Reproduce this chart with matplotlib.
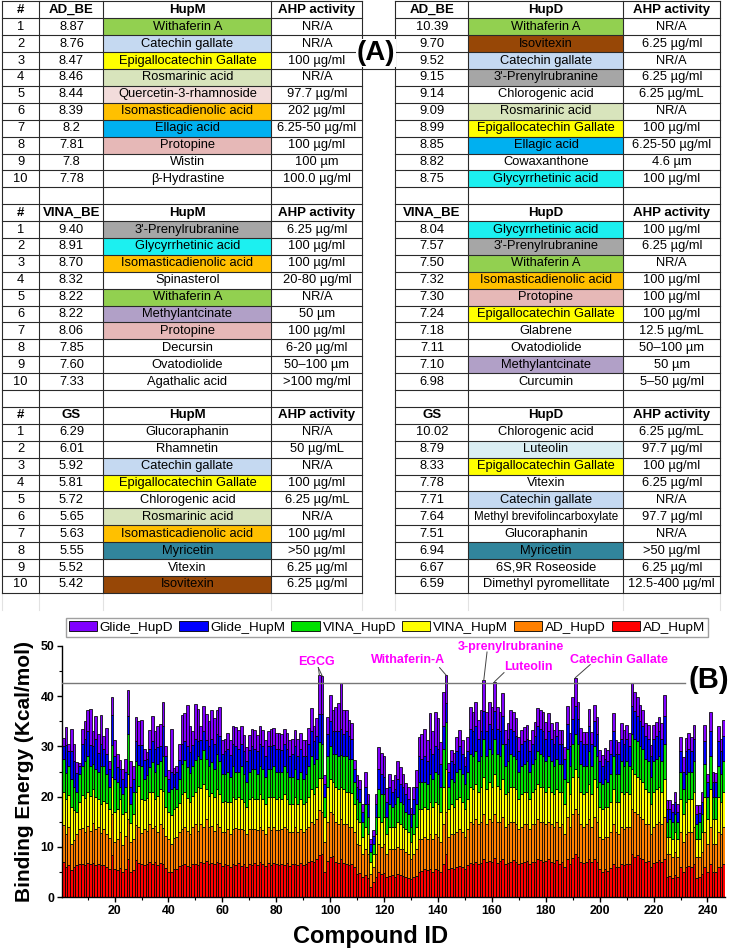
import numpy as np
import matplotlib
matplotlib.use('Agg')
import matplotlib.pyplot as plt
from matplotlib.patches import Rectangle, Patch

plt.rcParams['font.family'] = ['Liberation Sans', 'DejaVu Sans']

# ---------------- (A) tables ----------------
ad_hupm_be = ['8.87', '8.76', '8.47', '8.46', '8.44', '8.39', '8.2', '7.81', '7.8', '7.78']
ad_hupm_name = ['Withaferin A', 'Catechin gallate', 'Epigallocatechin Gallate', 'Rosmarinic acid',
                'Quercetin-3-rhamnoside', 'Isomasticadienolic acid', 'Ellagic acid', 'Protopine',
                'Wistin', 'β-Hydrastine']
ad_hupm_ahp = ['NR/A', 'NR/A', '100 µg/ml', 'NR/A', '97.7 µg/ml', '202 µg/ml', '6.25-50 µg/ml',
               '100 µg/ml', '100 µm', '100.0 µg/ml']

ad_hupd_be = ['10.39', '9.70', '9.52', '9.15', '9.14', '9.09', '8.99', '8.85', '8.82', '8.75']
ad_hupd_name = ['Withaferin A', 'Isovitexin', 'Catechin gallate', "3'-Prenylrubranine", 'Chlorogenic acid',
                'Rosmarinic acid', 'Epigallocatechin Gallate', 'Ellagic acid', 'Cowaxanthone',
                'Glycyrrhetinic acid']
ad_hupd_ahp = ['NR/A', '6.25 µg/ml', 'NR/A', '6.25 µg/ml', '6.25 µg/mL', 'NR/A', '100 µg/ml',
               '6.25-50 µg/ml', '4.6 µm', '100 µg/ml']

vina_hupm_be = ['9.40', '8.91', '8.70', '8.32', '8.22', '8.22', '8.06', '7.85', '7.60', '7.33']
vina_hupm_name = ["3'-Prenylrubranine", 'Glycyrrhetinic acid', 'Isomasticadienolic acid', 'Spinasterol',
                  'Withaferin A', 'Methylantcinate', 'Protopine', 'Decursin', 'Ovatodiolide',
                  'Agathalic acid']
vina_hupm_ahp = ['6.25 µg/ml', '100 µg/ml', '100 µg/ml', '20-80 µg/ml', 'NR/A', '50 µm', '100 µg/ml',
                 '6-20 µg/ml', '50–100 µm', '>100 mg/ml']

vina_hupd_be = ['8.04', '7.57', '7.50', '7.32', '7.30', '7.24', '7.18', '7.11', '7.10', '6.98']
vina_hupd_name = ['Glycyrrhetinic acid', "3'-Prenylrubranine", 'Withaferin A', 'Isomasticadienolic acid',
                  'Protopine', 'Epigallocatechin Gallate', 'Glabrene', 'Ovatodiolide', 'Methylantcinate',
                  'Curcumin']
vina_hupd_ahp = ['100 µg/ml', '6.25 µg/ml', 'NR/A', '100 µg/ml', '100 µg/ml', '100 µg/ml', '12.5 µg/mL',
                 '50–100 µm', '50 µm', '5–50 µg/ml']

gs_hupm_be = ['6.29', '6.01', '5.92', '5.81', '5.72', '5.65', '5.63', '5.55', '5.52', '5.42']
gs_hupm_name = ['Glucoraphanin', 'Rhamnetin', 'Catechin gallate', 'Epigallocatechin Gallate',
                'Chlorogenic acid', 'Rosmarinic acid', 'Isomasticadienolic acid', 'Myricetin', 'Vitexin',
                'Isovitexin']
gs_hupm_ahp = ['NR/A', '50 µg/mL', 'NR/A', '100 µg/ml', '6.25 µg/mL', 'NR/A', '100 µg/ml', '>50 µg/ml',
               '6.25 µg/ml', '6.25 µg/ml']

gs_hupd_be = ['10.02', '8.79', '8.33', '7.78', '7.71', '7.64', '7.51', '6.94', '6.67', '6.59']
gs_hupd_name = ['Chlorogenic acid', 'Luteolin', 'Epigallocatechin Gallate', 'Vitexin', 'Catechin gallate',
                'Methyl brevifolincarboxylate', 'Glucoraphanin', 'Myricetin', '6S,9R Roseoside',
                'Dimethyl pyromellitate']
gs_hupd_ahp = ['6.25 µg/mL', '97.7 µg/ml', '100 µg/ml', '6.25 µg/ml', 'NR/A', '97.7 µg/ml', 'NR/A',
               '>50 µg/ml', '6.25 µg/ml', '12.5-400 µg/ml']

score_names = ['AD_BE', 'VINA_BE', 'GS']

# cell shading used for compounds that recur in the tables
shade = {
    'Withaferin A': '#92D050', 'Catechin gallate': '#C5D9F1', 'Epigallocatechin Gallate': '#FFFF00',
    'Rosmarinic acid': '#D8E4BC', 'Quercetin-3-rhamnoside': '#F2DCDB', 'Isomasticadienolic acid': '#FFC000',
    'Ellagic acid': '#00B0F0', 'Protopine': '#E6B8B7', 'Isovitexin': '#974706',
    "3'-Prenylrubranine": '#A6A6A6', 'Glycyrrhetinic acid': '#1CF0F0', 'Methylantcinate': '#B1A0C7',
    'Myricetin': '#31859C', 'Luteolin': '#DAEEF3',
}

# ---------------- (B) stacked binding energies, compounds 1-246 ----------------
ad_hupm = [
    7.0, 6.0, 6.3, 5.3, 6.0, 6.3, 6.5, 6.6, 6.4, 6.8,
    6.5, 6.8, 6.3, 6.6, 6.3, 6.4, 6.0, 5.6, 8.3, 5.6,
    5.3, 5.8, 5.0, 5.6, 7.6, 5.0, 5.3, 7.3, 6.8, 6.5,
    6.3, 6.5, 7.0, 6.5, 7.0, 6.3, 6.8, 6.5, 5.8, 5.0,
    5.0, 5.5, 5.6, 6.2, 6.3, 6.5, 6.2, 6.0, 6.5, 6.6,
    6.4, 7.0, 6.8, 7.2, 6.6, 6.8, 6.5, 7.0,
    6.8, 6.2, 6.5, 6.3, 6.0, 6.6, 6.4, 6.7, 6.2, 6.5,
    6.0, 6.6, 6.4, 6.8, 6.3, 6.9, 6.5, 6.2, 6.7, 6.4,
    6.8, 6.5, 6.3, 6.6, 6.4, 6.7, 6.2, 6.5, 6.6, 6.3,
    6.8, 6.4, 6.6, 6.9, 7.2, 7.0, 7.5, 8.3, 8.5, 5.0,
    7.2, 8.0, 8.2, 7.0, 6.8, 7.5, 6.7, 6.5, 6.4, 6.5,
    6.0, 4.5, 4.8, 4.0, 4.3, 3.8, 2.0, 3.0, 4.0, 5.0,
    4.5, 4.8, 4.0, 4.2, 4.4, 4.0, 4.5, 4.3, 4.1, 4.0,
    3.8, 3.5, 4.0, 4.2, 5.0, 5.2, 5.5, 5.3, 5.5, 5.0,
    5.6, 5.4, 5.0, 6.5, 8.6, 5.5, 5.8, 5.5, 6.0, 6.2,
    6.0, 5.5, 6.3, 6.8, 6.5, 7.0, 6.6, 6.8, 7.5, 7.0,
    7.2, 7.0, 7.8, 6.8, 7.2, 7.5, 6.5, 6.8, 7.0, 7.3,
    7.0, 6.5, 6.8, 7.0, 7.2, 6.5, 6.9, 7.0, 7.5, 7.3,
    7.0, 7.2, 7.5, 7.0, 6.8, 7.3, 6.5, 7.0, 6.0, 7.5,
    6.5, 7.8, 8.6, 8.0, 7.0, 6.8, 7.0, 7.5, 7.0, 7.5,
    7.0, 5.5, 5.0, 5.5, 5.2, 5.8, 6.5, 6.0, 6.0, 6.5,
    6.3, 6.6, 6.5, 8.5, 8.0, 8.3, 7.8, 7.5, 7.0, 7.2,
    6.0, 6.8, 7.0, 7.3, 7.0, 7.5, 4.0, 4.2, 3.8, 4.3,
    4.0, 6.0, 5.0, 6.0, 6.2, 6.0, 6.5, 3.8, 4.0, 4.5,
    6.0, 5.0, 6.5, 5.0, 5.0, 6.0, 6.0, 6.5,
]
ad_hupd = [
    7.3, 6.6, 7.7, 5.3, 5.3, 6.2, 7.0, 7.2, 6.6, 7.4,
    6.7, 8.0, 7.3, 7.4, 6.5, 7.1, 6.5, 6.2, 8.2, 5.4,
    6.2, 7.2, 5.4, 6.6, 7.9, 6.0, 6.2, 7.0, 7.2, 6.2,
    7.2, 6.7, 7.5, 7.3, 7.2, 6.7, 7.7, 7.3, 6.4, 6.5,
    5.5, 6.3, 6.4, 6.8, 7.2, 7.5, 7.0, 6.5, 7.5, 7.9,
    6.8, 7.5, 7.2, 8.3, 7.4, 7.4, 6.7, 7.5,
    7.2, 6.8, 6.5, 7.2, 6.5, 7.0, 7.4, 6.8, 7.3, 6.8,
    6.5, 7.0, 7.2, 6.7, 7.0, 7.1, 6.8, 6.3, 7.3, 6.9,
    7.2, 6.8, 7.0, 6.9, 7.6, 6.8, 6.8, 6.5, 7.4, 6.7,
    6.7, 6.6, 6.9, 7.1, 7.8, 7.5, 8.0, 9.0, 8.5, 6.0,
    7.8, 9.0, 8.3, 8.0, 7.7, 8.0, 7.8, 8.0, 7.6, 7.5,
    7.0, 6.0, 5.5, 4.5, 5.2, 4.7, 2.5, 3.0, 4.5, 5.5,
    5.5, 5.7, 4.5, 5.3, 5.1, 5.5, 5.5, 5.2, 5.4, 5.0,
    4.7, 4.0, 4.5, 5.3, 6.5, 6.3, 6.5, 6.2, 7.0, 6.5,
    6.9, 6.6, 6.0, 8.0, 8.4, 6.5, 6.7, 7.0, 7.0, 7.3,
    7.0, 6.5, 7.2, 8.2, 8.0, 8.5, 7.9, 8.2, 9.0, 7.5,
    8.3, 8.0, 8.7, 8.2, 7.8, 8.5, 7.5, 7.7, 8.0, 7.7,
    7.5, 7.0, 7.2, 7.5, 7.3, 7.0, 7.6, 7.5, 8.0, 7.7,
    8.0, 7.3, 7.5, 7.5, 7.2, 7.7, 7.5, 7.5, 6.5, 8.5,
    7.5, 8.7, 8.9, 8.5, 7.5, 7.2, 7.5, 8.0, 7.0, 8.5,
    8.0, 6.5, 6.5, 6.5, 6.8, 7.2, 8.0, 7.0, 6.5, 7.5,
    7.2, 7.4, 7.5, 9.0, 9.0, 8.2, 8.2, 8.0, 7.5, 7.3,
    6.5, 7.2, 7.5, 7.7, 7.5, 8.5, 4.5, 4.3, 4.2, 4.7,
    4.0, 7.0, 6.0, 6.5, 6.8, 7.0, 7.5, 4.2, 4.0, 4.5,
    7.0, 5.5, 7.5, 5.5, 5.5, 7.0, 6.5, 7.5,
]
vina_hupm = [
    6.7, 6.9, 6.3, 7.4, 6.0, 4.5, 5.5, 6.6, 6.8, 6.8,
    7.0, 6.7, 6.4, 5.5, 5.7, 5.7, 6.3, 5.7, 7.5, 6.0,
    6.1, 6.5, 6.1, 4.8, 9.0, 3.8, 5.0, 6.7, 8.2, 6.8,
    5.8, 6.6, 6.5, 7.2, 5.3, 7.2, 7.0, 7.4, 5.8, 5.5,
    5.8, 5.7, 6.0, 5.8, 7.0, 7.0, 6.6, 6.5, 6.2, 6.5,
    8.8, 7.3, 8.5, 6.0, 6.2, 6.6, 6.8, 7.0,
    6.5, 6.0, 6.2, 5.5, 6.5, 6.4, 5.7, 6.5, 6.0, 5.7,
    5.5, 5.9, 6.4, 6.0, 6.2, 6.5, 6.2, 6.0, 6.0, 6.7,
    6.0, 6.2, 6.7, 6.0, 6.5, 6.0, 5.5, 5.5, 6.0, 5.5,
    6.0, 5.5, 5.5, 6.0, 6.5, 6.0, 6.5, 6.5, 6.8, 5.0,
    7.0, 6.5, 6.5, 7.0, 7.0, 6.5, 7.0, 6.5, 7.0, 6.8,
    5.5, 5.0, 4.7, 3.5, 4.5, 4.0, 2.5, 2.5, 4.0, 5.5,
    5.0, 5.5, 4.0, 4.5, 4.5, 4.5, 5.0, 5.0, 4.5, 4.5,
    4.5, 3.5, 4.0, 4.5, 6.0, 6.0, 6.0, 6.0, 6.5, 6.5,
    6.5, 6.5, 6.0, 7.5, 8.5, 5.5, 6.0, 5.5, 6.5, 6.5,
    6.0, 5.5, 6.0, 7.0, 7.0, 7.0, 6.5, 7.0, 7.5, 7.0,
    7.5, 7.0, 8.0, 7.2, 6.5, 7.5, 6.5, 6.5, 7.0, 7.0,
    7.0, 6.0, 6.5, 6.5, 6.5, 6.0, 6.5, 7.0, 7.0, 7.0,
    7.0, 6.5, 7.0, 6.5, 6.5, 6.5, 7.0, 6.5, 6.0, 7.0,
    6.5, 7.5, 8.0, 7.5, 6.5, 6.5, 6.5, 7.0, 6.5, 7.5,
    7.0, 6.0, 6.0, 6.0, 6.0, 6.0, 7.0, 6.0, 6.5, 7.0,
    7.0, 7.0, 6.5, 8.0, 7.5, 7.5, 7.5, 7.5, 7.0, 6.5,
    6.0, 7.0, 7.0, 7.0, 6.5, 7.5, 3.5, 3.5, 3.5, 4.0,
    3.5, 6.5, 5.5, 6.5, 6.5, 6.5, 7.0, 3.5, 3.5, 4.0,
    7.0, 5.0, 7.5, 5.0, 5.0, 7.0, 6.5, 7.0,
]
vina_hupd = [
    6.5, 5.3, 5.7, 5.5, 4.7, 4.0, 5.5, 5.6, 7.2, 7.0,
    5.8, 5.0, 5.5, 5.5, 7.5, 6.8, 5.7, 4.5, 6.3, 6.5,
    5.4, 2.5, 4.0, 5.0, 8.0, 3.7, 4.5, 6.0, 4.1, 6.5,
    4.2, 4.5, 4.8, 5.8, 5.5, 6.3, 5.5, 6.8, 6.2, 4.0,
    5.2, 4.5, 3.5, 4.7, 6.0, 6.2, 6.0, 5.8, 5.8, 6.3,
    6.0, 5.7, 6.7, 6.0, 5.8, 6.0, 5.5, 7.0,
    6.5, 5.5, 5.3, 6.0, 5.0, 6.0, 5.5, 5.0, 6.5, 5.5,
    5.0, 5.5, 5.5, 6.0, 5.0, 5.5, 6.0, 5.5, 5.5, 5.5,
    6.0, 5.5, 5.0, 5.5, 5.5, 5.5, 5.5, 5.5, 5.5, 5.0,
    5.5, 5.0, 5.5, 6.0, 6.5, 6.0, 5.5, 7.0, 6.7, 4.0,
    6.0, 6.5, 5.5, 6.5, 6.5, 6.2, 6.5, 7.0, 6.5, 6.7,
    4.5, 4.0, 4.0, 3.0, 4.5, 3.5, 2.0, 2.0, 3.5, 5.5,
    5.5, 4.5, 3.5, 4.5, 4.0, 4.5, 5.0, 4.5, 4.5, 3.5,
    3.5, 3.0, 4.0, 4.5, 5.5, 5.5, 5.0, 5.0, 5.5, 5.5,
    6.0, 6.0, 5.0, 7.5, 9.4, 4.5, 5.0, 5.0, 5.5, 5.5,
    5.5, 5.0, 5.5, 6.5, 6.5, 6.5, 6.0, 6.0, 7.5, 6.5,
    6.5, 6.5, 7.0, 6.3, 6.5, 7.0, 5.5, 6.0, 6.5, 6.0,
    6.0, 5.5, 5.5, 5.5, 6.0, 5.5, 5.5, 6.0, 6.5, 6.5,
    6.0, 6.0, 6.0, 6.0, 5.5, 6.0, 5.5, 5.5, 5.0, 6.5,
    5.5, 6.5, 7.0, 6.5, 5.5, 5.5, 5.0, 6.5, 5.5, 6.5,
    6.0, 5.0, 5.0, 5.5, 5.0, 5.5, 6.5, 5.5, 5.5, 6.0,
    5.5, 6.0, 5.5, 7.0, 7.0, 7.0, 6.5, 6.5, 6.0, 6.0,
    5.5, 6.0, 6.0, 6.0, 6.0, 7.0, 3.0, 3.5, 3.5, 3.5,
    3.5, 5.5, 5.0, 5.5, 5.5, 5.5, 6.0, 3.0, 3.5, 3.5,
    6.5, 4.5, 6.5, 4.5, 4.5, 6.0, 5.5, 6.0,
]
glide_hupm = [
    2.5, 5.5, 3.0, 5.5, 5.0, 3.8, 1.5, 4.5, 4.5, 5.0,
    4.2, 3.5, 6.0, 3.6, 4.5, 3.5, 3.9, 3.5, 5.9, 4.5,
    2.8, 3.5, 3.0, 3.0, 3.5, 3.5, 2.5, 4.0, 3.9, 4.2,
    3.7, 3.2, 3.7, 4.2, 4.5, 3.3, 3.0, 6.0, 3.8, 2.5,
    3.5, 2.5, 3.5, 3.7, 4.0, 3.8, 4.2, 4.0, 4.2, 4.2,
    3.0, 3.7, 3.8, 3.7, 4.0, 4.7, 5.0, 4.0,
    5.0, 4.0, 4.5, 4.5, 4.2, 4.5, 5.0, 4.5, 4.5, 4.5,
    4.0, 4.2, 4.5, 4.0, 4.5, 4.5, 4.5, 4.0, 4.5, 4.5,
    4.2, 4.5, 4.5, 4.2, 4.5, 4.5, 4.0, 4.5, 4.5, 4.5,
    4.5, 4.5, 3.5, 4.5, 5.0, 4.5, 4.5, 5.7, 6.0, 2.5,
    4.5, 5.0, 4.5, 4.5, 5.0, 5.3, 4.5, 5.0, 4.5, 4.0,
    2.5, 2.5, 2.5, 2.0, 3.5, 2.5, 1.5, 1.7, 2.5, 4.0,
    4.0, 3.5, 3.0, 3.5, 3.0, 3.0, 3.5, 3.5, 3.5, 3.5,
    3.0, 2.5, 3.0, 3.5, 5.0, 4.5, 5.0, 4.5, 5.0, 5.0,
    5.0, 5.0, 4.5, 4.5, 3.7, 3.0, 3.5, 3.5, 4.0, 4.5,
    4.0, 3.5, 4.0, 5.0, 5.0, 5.0, 4.5, 5.0, 5.5, 5.0,
    5.0, 5.0, 5.5, 5.0, 5.0, 5.5, 4.5, 4.5, 5.0, 5.0,
    4.5, 4.0, 4.5, 4.5, 4.5, 4.0, 4.0, 4.5, 5.0, 5.0,
    5.0, 4.5, 5.0, 4.5, 4.5, 4.5, 4.0, 4.0, 4.0, 5.0,
    4.0, 5.0, 5.5, 5.0, 4.5, 4.5, 4.5, 5.0, 4.5, 5.0,
    4.5, 4.0, 3.5, 4.0, 4.0, 4.0, 5.0, 4.0, 4.0, 4.5,
    4.5, 4.5, 4.0, 5.5, 5.5, 5.0, 5.0, 4.5, 4.5, 4.5,
    4.0, 4.5, 4.5, 5.0, 4.5, 5.5, 2.5, 2.0, 2.0, 2.5,
    2.0, 4.0, 3.5, 4.5, 4.5, 4.0, 4.5, 2.0, 1.8, 2.5,
    4.5, 3.0, 5.0, 3.0, 3.0, 5.0, 4.5, 5.0,
]
glide_hupd = [
    1.7, 3.5, 1.5, 4.5, 3.5, 2.0, 0.6, 2.9, 3.5, 4.2,
    7.3, 3.0, 4.5, 3.8, 5.7, 2.5, 5.3, 1.5, 3.6, 3.2,
    2.7, 1.8, 2.0, 2.4, 5.2, 5.0, 2.5, 4.8, 4.8, 5.1,
    2.3, 1.3, 3.8, 5.0, 3.5, 4.2, 4.5, 4.8, 2.0, 1.7,
    8.5, 1.2, 1.0, 3.3, 5.7, 5.6, 8.2, 5.2, 2.8, 7.0,
    6.5, 2.8, 5.0, 5.3, 5.0, 5.8, 5.1, 4.7,
    5.9, 2.7, 2.4, 3.1, 3.0, 3.5, 3.8, 3.7, 3.5, 3.2,
    2.8, 3.0, 3.4, 3.7, 3.2, 3.5, 3.2, 3.2, 3.1, 3.4,
    3.4, 3.1, 3.2, 3.2, 2.9, 3.2, 3.2, 2.9, 3.2, 3.4,
    3.2, 3.2, 3.2, 3.1, 4.6, 3.0, 3.6, 7.7, 7.6, 1.8,
    3.3, 5.2, 4.2, 4.9, 5.6, 9.1, 4.7, 4.2, 3.2, 3.1,
    1.8, 2.3, 1.8, 1.6, 2.9, 2.0, 1.1, 1.1, 2.1, 4.4,
    4.1, 4.0, 2.8, 2.6, 2.3, 2.8, 3.6, 3.3, 2.6, 2.3,
    2.5, 1.3, 2.5, 3.3, 3.9, 5.0, 5.5, 4.2, 7.1, 4.5,
    6.9, 6.1, 4.3, 6.9, 5.6, 1.6, 2.3, 2.1, 2.9, 3.2,
    2.7, 1.9, 2.9, 4.4, 3.9, 4.9, 3.7, 4.2, 6.2, 3.9,
    4.4, 4.4, 5.9, 4.4, 3.9, 4.6, 2.7, 3.1, 3.7, 3.9,
    3.6, 2.9, 2.7, 2.9, 2.7, 2.2, 2.7, 2.9, 3.6, 3.7,
    3.9, 3.4, 3.6, 3.1, 2.7, 2.9, 2.7, 2.7, 2.4, 3.5,
    2.6, 4.4, 5.7, 3.4, 2.6, 2.4, 2.4, 3.4, 2.4, 3.2,
    3.4, 2.3, 2.3, 2.1, 2.3, 2.7, 3.6, 2.7, 2.4, 3.1,
    2.7, 2.7, 2.6, 4.6, 3.9, 3.9, 3.2, 3.2, 2.6, 2.7,
    2.3, 2.7, 2.9, 2.9, 3.1, 4.2, 1.8, 1.8, 1.6, 1.9,
    1.6, 2.9, 2.9, 2.6, 3.1, 2.9, 2.7, 1.8, 1.5, 1.9,
    3.2, 1.6, 3.9, 2.0, 1.8, 3.0, 2.5, 3.2,
]

series_names = ['AD_HupM', 'AD_HupD', 'VINA_HupM', 'VINA_HupD', 'Glide_HupM', 'Glide_HupD']
series_colors = ['#FF0000', '#FF8000', '#FFFF00', '#00E000', '#0000FF', '#8000FF']

# highlighted compounds: label, compound ids the leader lines point to
hits = [('EGCG', [96, 97]), ('Withaferin-A', [143]), ('3-prenylrubranine', [157]),
        ('Luteolin', [161]), ('Catechin Gallate', [191])]
cutoff = 42.7

# ---------------------------------------------------------------
W, H = 729, 951
fig = plt.figure(figsize=(W / 100, H / 100), dpi=100)

tab = fig.add_axes([0, 0, 1, 1])
tab.set_xlim(0, W)
tab.set_ylim(H, 0)
tab.axis('off')

row_h = 16.9
top0 = 1.4
left_cols = [2, 39.5, 103.5, 271.5, 362.5]
right_cols = [395.5, 468.5, 623.5, 720]
line_c = '#2a2a2a'


def put(x0, x1, row, s, bold=False):
    size = 9.5 if bold else 9.3
    if len(s) > 26:
        size = 8.4
    tab.text((x0 + x1) / 2, top0 + (row + 0.5) * row_h, s, ha='center', va='center',
             fontsize=size, fontweight='bold' if bold else 'normal')


blocks = [
    (ad_hupm_be, ad_hupm_name, ad_hupm_ahp, ad_hupd_be, ad_hupd_name, ad_hupd_ahp),
    (vina_hupm_be, vina_hupm_name, vina_hupm_ahp, vina_hupd_be, vina_hupd_name, vina_hupd_ahp),
    (gs_hupm_be, gs_hupm_name, gs_hupm_ahp, gs_hupd_be, gs_hupd_name, gs_hupd_ahp),
]

for b, (mbe, mname, mahp, dbe, dname, dahp) in enumerate(blocks):
    r0 = 12 * b
    # headers
    put(left_cols[0], left_cols[1], r0, '#', True)
    put(left_cols[1], left_cols[2], r0, score_names[b], True)
    put(left_cols[2], left_cols[3], r0, 'HupM', True)
    put(left_cols[3], left_cols[4], r0, 'AHP activity', True)
    put(right_cols[0], right_cols[1], r0, score_names[b], True)
    put(right_cols[1], right_cols[2], r0, 'HupD', True)
    put(right_cols[2], right_cols[3], r0, 'AHP activity', True)
    for i in range(10):
        r = r0 + 1 + i
        y = top0 + r * row_h
        if mname[i] in shade:
            tab.add_patch(Rectangle((left_cols[2], y), left_cols[3] - left_cols[2], row_h,
                                    facecolor=shade[mname[i]], edgecolor='none', zorder=0))
        if dname[i] in shade:
            tab.add_patch(Rectangle((right_cols[1], y), right_cols[2] - right_cols[1], row_h,
                                    facecolor=shade[dname[i]], edgecolor='none', zorder=0))
        put(left_cols[0], left_cols[1], r, str(i + 1))
        put(left_cols[1], left_cols[2], r, mbe[i])
        put(left_cols[2], left_cols[3], r, mname[i])
        put(left_cols[3], left_cols[4], r, mahp[i])
        put(right_cols[0], right_cols[1], r, dbe[i])
        put(right_cols[1], right_cols[2], r, dname[i])
        put(right_cols[2], right_cols[3], r, dahp[i])

# grid lines
for k in range(36):
    y = top0 + k * row_h
    tab.plot([left_cols[0], left_cols[-1]], [y, y], color=line_c, lw=0.8, zorder=2)
    tab.plot([right_cols[0], right_cols[-1]], [y, y], color=line_c, lw=0.8, zorder=2)
y_end = top0 + 35 * row_h
for cols in (left_cols, right_cols):
    for x in cols:
        tab.plot([x, x], [top0, y_end], color=line_c, lw=0.8, zorder=2)
        tab.plot([x, x], [y_end, y_end + row_h], color='#e2e2e2', lw=0.8, zorder=1)
for k in (2, 3, 4):
    y = top0 + k * row_h
    tab.plot([left_cols[-1], right_cols[0]], [y, y], color=line_c, lw=0.8, zorder=2)
tab.text(376, 53, '(A)', ha='center', va='center', fontsize=20, fontweight='bold', zorder=3,
         bbox=dict(facecolor='white', edgecolor='none', pad=0.5))

# ---------------- bar chart ----------------
ax = fig.add_axes([62 / W, 1 - 897 / H, 663 / W, 251 / H])
ids = np.arange(1, len(ad_hupm) + 1)
stack = [ad_hupm, ad_hupd, vina_hupm, vina_hupd, glide_hupm, glide_hupd]
bottom = np.zeros(len(ids))
for vals, col, name in zip(stack, series_colors, series_names):
    vals = np.array(vals)
    ax.bar(ids, vals, width=1.0, bottom=bottom, color=col, edgecolor='black', linewidth=0.55,
           label=name, zorder=2)
    bottom = bottom + vals
tops = bottom

ax.set_xlim(0.5, len(ids) + 0.5)
ax.set_ylim(0, 50)
ax.plot([0.5, 231.5], [cutoff, cutoff], color='#777777', lw=1.0, zorder=3)

for s in ('top', 'right'):
    ax.spines[s].set_visible(False)
for s in ('left', 'bottom'):
    ax.spines[s].set_linewidth(1.0)

xt = list(range(20, 241, 20))
ax.set_xticks(xt, labels=[str(v) for v in xt], fontweight='bold', fontsize=8.8)
ax.set_xticks(list(range(10, 247, 10)), minor=True)
yt = list(range(0, 51, 10))
ax.set_yticks(yt, labels=[str(v) for v in yt], fontweight='bold', fontsize=8.8)
ax.set_yticks(list(range(5, 50, 10)), minor=True)
ax.tick_params(which='major', direction='out', length=3.5, width=1.0, pad=2)
ax.tick_params(which='minor', direction='out', length=2.0, width=0.8)

# labels for the best compounds
label_pos = {'EGCG': (95, 46.8), 'Withaferin-A': (129, 47.2), '3-prenylrubranine': (167, 49.8),
             'Luteolin': (173.4, 45.9), 'Catechin Gallate': (207, 47.2)}
leader_start = {'EGCG': (95.6, 45.7), 'Withaferin-A': (140.6, 45.7), '3-prenylrubranine': (158.2, 48.8),
                'Luteolin': (164.5, 44.7), 'Catechin Gallate': (196.5, 46.3)}
for name, cids in hits:
    tx, ty = label_pos[name]
    ax.text(tx, ty, name, color='#FF00FF', fontsize=9, fontweight='bold', ha='center', va='center',
            clip_on=False, zorder=5)
    sx, sy = leader_start[name]
    for c in cids:
        ax.plot([sx, c], [sy, tops[c - 1]], color='#444444', lw=0.7, clip_on=False, zorder=4)

handles = [Patch(facecolor=c, edgecolor='black', linewidth=0.6, label=n)
           for n, c in zip(series_names[::-1], series_colors[::-1])]
fig.legend(handles=handles, ncol=6, loc='center', bbox_to_anchor=(387 / W, 1 - 627.5 / H),
           frameon=True, fancybox=False, edgecolor='#888888', fontsize=9.7, handlelength=2.1,
           handleheight=0.8, handletextpad=0.2, columnspacing=0.45, borderpad=0.2)

fig.text(25 / W, 1 - 771 / H, 'Binding Energy (Kcal/mol)', rotation=90, ha='center', va='center',
         fontsize=15, fontweight='bold')
fig.text(371 / W, 1 - 936 / H, 'Compound ID', ha='center', va='center', fontsize=17, fontweight='bold')
fig.text(709 / W, 1 - 680 / H, '(B)', ha='center', va='center', fontsize=21, fontweight='bold')

fig.savefig('out.png', dpi=100)
